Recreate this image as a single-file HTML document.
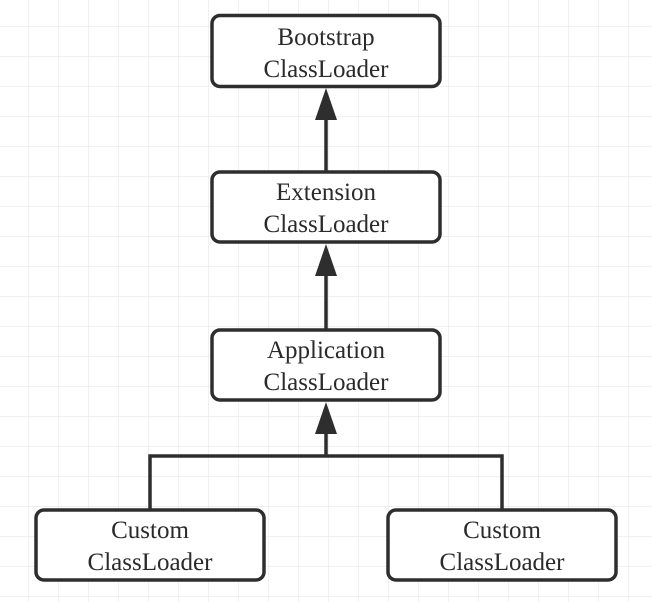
<!DOCTYPE html>
<html><head><meta charset="utf-8"><style>
html,body{margin:0;padding:0;background:#fff;}
svg{display:block;}
text{font-family:"Liberation Serif",serif;font-size:25px;fill:#2a2a2a;text-anchor:middle;}
</style></head><body>
<svg width="652" height="602" viewBox="0 0 652 602" xmlns="http://www.w3.org/2000/svg">
<defs>
<pattern id="g" x="-1" y="-3" width="30" height="30" patternUnits="userSpaceOnUse">
<path d="M30 0V30M0 30H30" stroke="#ebebeb" stroke-width="1.5" fill="none"/>
</pattern>
</defs>
<rect width="652" height="602" fill="url(#g)"/>
<g stroke="#2e2e2e" stroke-width="3.5" fill="none">
<line x1="326" y1="172" x2="326" y2="110"/>
<line x1="326" y1="330" x2="326" y2="266"/>
<line x1="326" y1="456" x2="326" y2="424"/>
<polyline points="150,509 150,456 502,456 502,509"/>
</g>
<g fill="#2e2e2e">
<polygon points="326,88 315,120 337,120"/>
<polygon points="326,244 315,276 337,276"/>
<polygon points="326,402 315,434 337,434"/>
</g>
<g stroke="#2e2e2e" stroke-width="3.5" fill="#fff">
<rect x="212" y="15.5" width="228" height="71" rx="8"/>
<rect x="212" y="172" width="228" height="70" rx="8"/>
<rect x="212" y="330" width="228" height="70" rx="8"/>
<rect x="36" y="510" width="228" height="70" rx="8"/>
<rect x="388" y="510" width="228" height="70" rx="8"/>
</g>
<text x="326" y="45">Bootstrap</text><text x="326" y="77">ClassLoader</text>
<text x="326" y="200">Extension</text><text x="326" y="232">ClassLoader</text>
<text x="326" y="358">Application</text><text x="326" y="390">ClassLoader</text>
<text x="150" y="538">Custom</text><text x="150" y="570">ClassLoader</text>
<text x="502" y="538">Custom</text><text x="502" y="570">ClassLoader</text>
</svg>
</body></html>
